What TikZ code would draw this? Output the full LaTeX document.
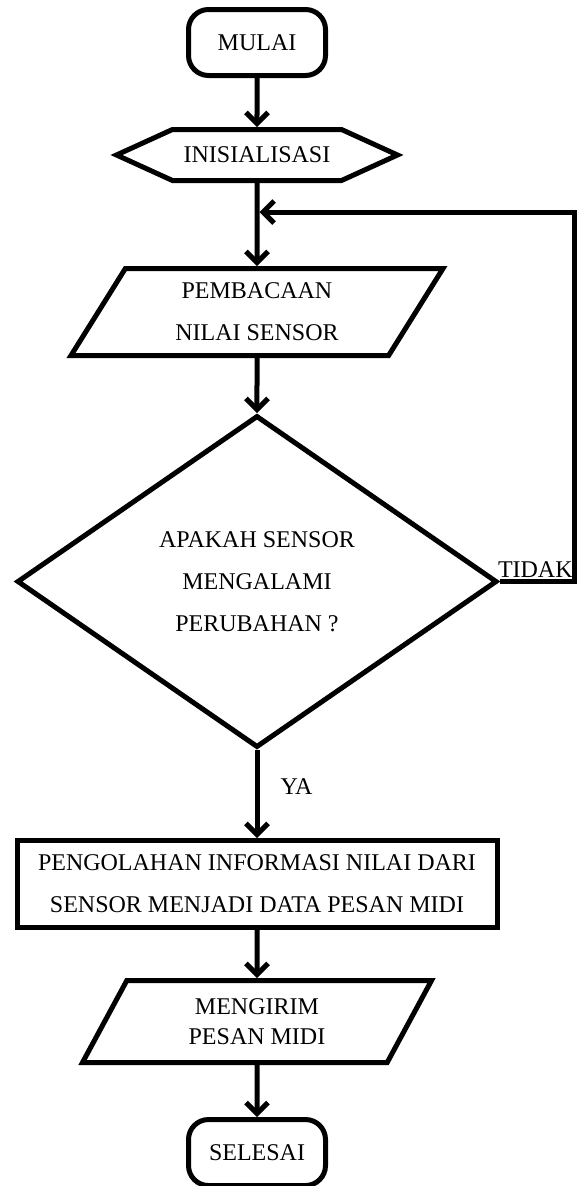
\documentclass[tikz,border=0pt]{standalone}
\usepackage{fontspec}
\setmainfont{Liberation Serif}
\usetikzlibrary{shapes,arrows.meta,positioning}
\tikzstyle{terminal} = [rectangle, draw, line width=5pt, rounded corners=20pt, text centered, minimum width=137pt, minimum height=66pt]
\tikzstyle{prep} = [signal, signal to=east and west, signal pointer angle=49, draw, line width=5pt, text centered, minimum width=281pt, minimum height=51pt]
\tikzstyle{io} = [trapezium, trapezium left angle=50, trapezium right angle=130, trapezium stretches body, draw, line width=5pt, align=center]
\tikzstyle{decision} = [diamond, draw, line width=5pt, align=center, inner sep=0pt, minimum width=480pt, minimum height=332pt]
\tikzstyle{process} = [rectangle, draw, line width=5pt, align=center, minimum width=480pt, minimum height=87pt]
\tikzstyle{line} = [draw, line width=5pt, -{Straight Barb[length=11pt,width=22pt]}]

\begin{document}
\begin{tikzpicture}[x=1pt, y=1pt, font=\fontsize{24}{42}\selectfont]
    \useasboundingbox (0,0) rectangle (576,-1186);
    \node [terminal] (mulai) at (257,-42.5) {MULAI};
    \node [prep, below=49pt of mulai] (init) {INISIALISASI};
    \node [io, minimum width=372pt, minimum height=87pt, below=83pt of init] (baca) {PEMBACAAN\\NILAI SENSOR};
    \node [decision, below=55pt of baca] (cek) {APAKAH SENSOR\\MENGALAMI\\PERUBAHAN ?};
    \node [process, below=88pt of cek] (olah) {PENGOLAHAN INFORMASI NILAI DARI\\SENSOR MENJADI DATA PESAN MIDI};
    \node [io, minimum width=349pt, minimum height=82pt, font=\fontsize{24}{30}\selectfont, below=48pt of olah] (kirim) {MENGIRIM\\PESAN MIDI};
    \node [terminal, below=52pt of kirim] (selesai) {SELESAI};
    \coordinate[below=29pt of init] (gabung);
    \coordinate (kanan) at (574,0);
    \path [line] (mulai) -- (init);
    \path [line] (init) -- (baca);
    \path [line] (baca) -- (cek);
    \path [line] (cek) -- node[right=19pt, pos=0.42, inner sep=2pt]{YA} (olah);
    \path [line] (olah) -- (kirim);
    \path [line] (kirim) -- (selesai);
    \path [line, shorten >=2.5pt] (cek.east) -- node[pos=0, anchor=south west, xshift=-5pt, inner sep=1pt]{TIDAK} (cek.east -| kanan) |- (gabung);
\end{tikzpicture}
\end{document}
